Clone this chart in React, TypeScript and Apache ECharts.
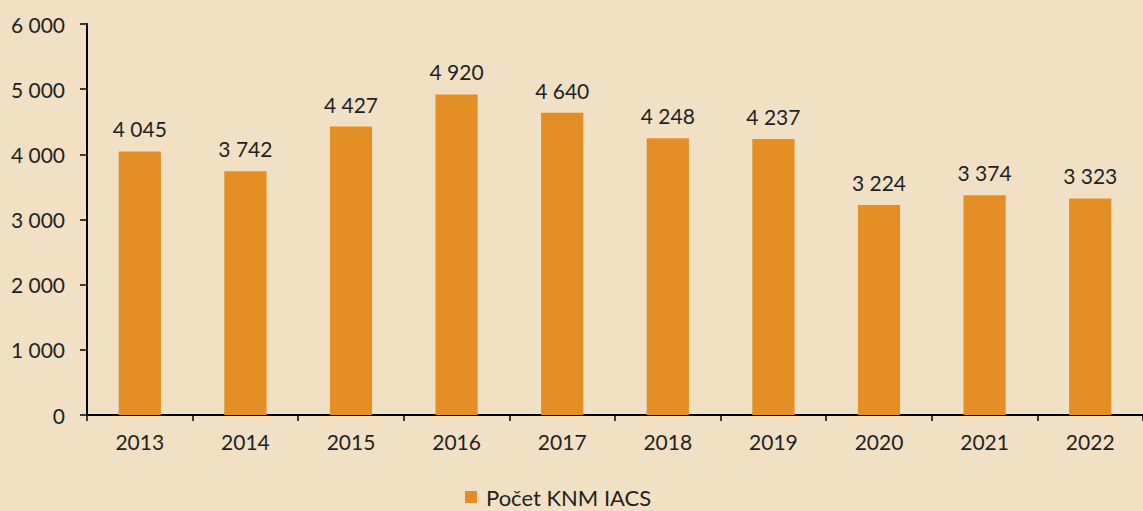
import React, { useEffect, useRef } from "react";
import * as echarts from "echarts";

const categories = ["2013", "2014", "2015", "2016", "2017", "2018", "2019", "2020", "2021", "2022"];
const values = [4045, 3742, 4427, 4920, 4640, 4248, 4237, 3224, 3374, 3323];
const seriesName = "Počet KNM IACS";

const fmt = (v: number) => String(v).replace(/\B(?=(\d{3})+(?!\d))/g, " ");

export default function App() {
  const ref = useRef<HTMLDivElement>(null);
  useEffect(() => {
    if (!ref.current) return;
    const chart = echarts.init(ref.current, null, { renderer: "svg" });
    const font = "Lato, 'Open Sans', sans-serif";
    chart.setOption({
      animation: false,
      backgroundColor: "#f2e0c5",
      textStyle: { fontFamily: font },
      grid: { left: 87, right: -9, top: 24, bottom: 96 },
      legend: {
        top: 486,
        left: 465,
        padding: 0,
        itemWidth: 12,
        itemHeight: 12,
        itemGap: 10,
        icon: "rect",
        textStyle: { fontSize: 22, lineHeight: 22, color: "#231f20", fontFamily: font, padding: [0, 0, 0, 4] },
        data: [seriesName],
      },
      xAxis: {
        type: "category",
        data: categories,
        axisLine: { lineStyle: { color: "#000", width: 2 } },
        axisTick: { show: true, length: 6, lineStyle: { color: "#000", width: 1.5 }, alignWithLabel: false },
        axisLabel: { color: "#231f20", fontSize: 21, margin: 16, fontFamily: font },
      },
      yAxis: {
        type: "value",
        min: 0,
        max: 6000,
        interval: 1000,
        splitLine: { show: false },
        axisLine: { show: true, lineStyle: { color: "#000", width: 2 } },
        axisTick: { show: true, length: 7, lineStyle: { color: "#000", width: 1.5 } },
        axisLabel: { color: "#231f20", fontSize: 21, margin: 22, fontFamily: font, formatter: (v: number) => fmt(v) },
      },
      series: [
        {
          name: seriesName,
          type: "bar",
          data: values,
          barWidth: "40%",
          itemStyle: { color: "#e48f26" },
          label: {
            show: true,
            position: "top",
            distance: 12,
            color: "#231f20",
            fontSize: 21,
            fontFamily: font,
            formatter: (p: any) => fmt(p.value),
          },
        },
      ],
    });
    return () => chart.dispose();
  }, []);
  return <div ref={ref} style={{ width: 1143, height: 511, position: "absolute", left: 0, top: 0 }} />;
}
